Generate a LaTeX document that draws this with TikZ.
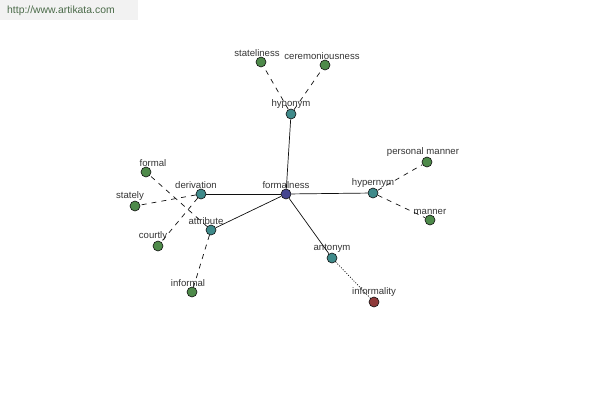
\documentclass[tikz,border=0pt]{standalone}
\usepackage{fontspec}
\setmainfont{Liberation Sans}
\usepackage{xcolor}
\usepackage{tikz}
\usetikzlibrary{positioning}
\definecolor{rootc}{HTML}{44448F}
\definecolor{relc}{HTML}{3F8A8A}
\definecolor{leafc}{HTML}{4E8A4A}
\definecolor{oppc}{HTML}{8F3A3A}
\definecolor{mark}{HTML}{4A6A48}
\definecolor{ink}{HTML}{101010}

\begin{document}
\begin{tikzpicture}[
  x=1pt, y=-1pt,
  label distance=-1pt,
  every label/.style={font=\fontsize{9.6}{11}\selectfont, text=ink!85, inner sep=1pt},
  dot/.style={circle, draw=ink, line width=0.6pt, minimum size=10pt, inner sep=0pt},
  root/.style={dot, fill=rootc},
  rel/.style={dot, fill=relc},
  leaf/.style={dot, fill=leafc},
  opp/.style={dot, fill=oppc},
  link/.style={line width=0.7pt, ink},
  weak/.style={line width=0.7pt, ink, dash pattern=on 5pt off 5pt},
  near/.style={line width=0.7pt, ink, dash pattern=on 1pt off 1.6pt}
]
  \useasboundingbox (0,0) rectangle (600,400);
  \fill[gray!10] (0,0) rectangle (138,20);
  \node[anchor=west, inner sep=0pt, text=mark, font=\fontsize{10.4}{12}\selectfont] (site) at (7,11) {http://www.artikata.com};

  \node[root, label=above:formalness] (formalness) at (286,194) {};
  \node[rel, label=above:hyponym] (hyponym) at (291,114) {};
  \node[rel, label=above:hypernym] (hypernym) at (373,193) {};
  \node[rel, label={[xshift=-5pt]above:derivation}] (derivation) at (201,194) {};
  \node[rel, label={[xshift=-5pt]above:attribute}] (attribute) at (211,230) {};
  \node[rel, label=above:antonym] (antonym) at (332,258) {};

  \node[leaf, label={[xshift=-4pt]above:stateliness}] (stateliness) at (261,62) {};
  \node[leaf, label={[xshift=-3pt]above:ceremoniousness}] (ceremoniousness) at (325,65) {};
  \node[leaf, label={[xshift=-4pt]above:personal manner}] (personal) at (427,162) {};
  \node[leaf, label=above:manner] (manner) at (430,220) {};
  \node[leaf, label={[xshift=7pt]above:formal}] (formal) at (146,172) {};
  \node[leaf, label={[xshift=-5pt]above:stately}] (stately) at (135,206) {};
  \node[leaf, label={[xshift=-5pt]above:courtly}] (courtly) at (158,246) {};
  \node[leaf, label={[xshift=-4pt]above:informal}] (informal) at (192,292) {};
  \node[opp, label=above:informality] (informality) at (374,302) {};

  % relations of the root
  \draw[link] (formalness) -- (hyponym);
  \draw[link] (formalness) -- (hypernym);
  \draw[link] (formalness) -- (derivation);
  \draw[link] (formalness) -- (attribute);
  \draw[link] (formalness) -- (antonym);

  % words under each relation
  \draw[weak] (hyponym) -- (stateliness);
  \draw[weak] (hyponym) -- (ceremoniousness);
  \draw[weak] (hypernym) -- (personal);
  \draw[weak] (hypernym) -- (manner);
  \draw[weak] (derivation) -- (stately);
  \draw[weak] (derivation) -- (courtly);
  \draw[weak] (attribute) -- (formal);
  \draw[weak] (attribute) -- (informal);
  \draw[near] (antonym) -- (informality);
\end{tikzpicture}
\end{document}
